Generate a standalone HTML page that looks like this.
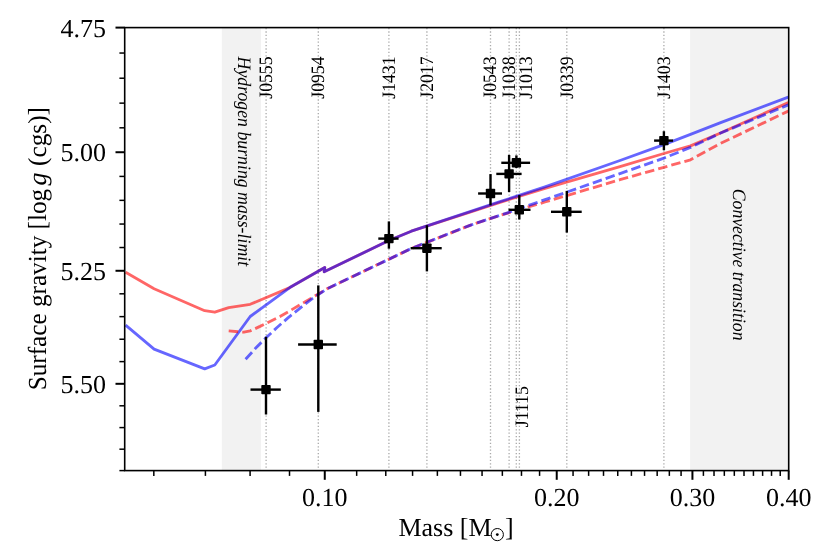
<!DOCTYPE html>
<html><head><meta charset="utf-8"><title>Mass - surface gravity</title>
<style>html,body{margin:0;padding:0;background:#fff;}svg{display:block;}text{font-family:"Liberation Serif",serif;fill:#000;text-rendering:geometricPrecision;}</style></head><body>
<svg width="830" height="554" viewBox="0 0 830 554">
<rect x="0" y="0" width="830" height="554" fill="#ffffff"/>
<rect x="221.8" y="27.6" width="39.2" height="443.0" fill="#f2f2f2"/>
<rect x="690.1" y="27.6" width="98.6" height="443.0" fill="#f2f2f2"/>
<g stroke="#808080" stroke-opacity="0.68" stroke-width="1.3" stroke-dasharray="1.28 2.12" stroke-dashoffset="0.64" fill="none">
<line x1="266.1" y1="470.6" x2="266.1" y2="27.6"/>
<line x1="318.3" y1="470.6" x2="318.3" y2="27.6"/>
<line x1="388.9" y1="470.6" x2="388.9" y2="27.6"/>
<line x1="426.9" y1="470.6" x2="426.9" y2="27.6"/>
<line x1="490.5" y1="470.6" x2="490.5" y2="27.6"/>
<line x1="509.1" y1="470.6" x2="509.1" y2="27.6"/>
<line x1="516.3" y1="470.6" x2="516.3" y2="27.6"/>
<line x1="519.4" y1="470.6" x2="519.4" y2="27.6"/>
<line x1="566.8" y1="470.6" x2="566.8" y2="27.6"/>
<line x1="663.9" y1="470.6" x2="663.9" y2="27.6"/>
</g>
<g fill="none" stroke-width="2.85" stroke-linejoin="round" stroke-opacity="0.6">
<polyline points="125.6,272.2 154.1,288.7 204.7,310.7 214.8,312.2 228.7,307.6 250.2,304.3 289.8,287.6 324.8,267.6 324.2,271.8 388.9,240.5 411.3,231.2 470.0,212.1 500.0,202.3 545.0,188.3 620.0,166.7 663.9,153.5 690.5,145.9 720.0,133.3 788.3,102.6" stroke="#ff0000"/>
<polyline points="125.6,325.1 154.1,349.1 204.7,368.8 214.8,365.0 250.2,316.5 289.8,287.6 324.8,267.6 324.2,271.8 388.9,240.5 411.3,231.2 470.0,211.6 500.0,201.7 545.0,186.8 620.0,160.5 663.9,144.6 690.5,134.4 720.0,122.9 788.3,97.2" stroke="#0000ff"/>
<polyline points="228.7,330.9 243.9,332.2 250.2,330.9 260.0,326.4 280.0,316.6 305.7,301.5 327.0,288.8 411.3,248.5 470.0,225.3 500.0,215.4 545.0,202.0 620.0,179.7 663.9,167.3 690.5,159.8 720.0,143.7 788.3,111.1" stroke="#ff0000" stroke-dasharray="9.5 4.1"/>
<polyline points="245.6,359.2 256.0,347.8 266.0,337.8 277.0,327.5 287.7,318.1 298.6,309.3 310.0,300.3 318.0,294.7 327.0,288.8 411.3,248.5 470.0,225.3 500.0,215.4 545.0,199.7 620.0,173.6 663.9,158.1 690.5,147.4 720.0,133.3 788.3,104.9" stroke="#0000ff" stroke-dasharray="9.5 4.1"/>
</g>
<g stroke="#000" stroke-width="2.4" fill="#000">
<line x1="250.5" y1="389.6" x2="280.8" y2="389.6"/><line x1="266.0" y1="336.8" x2="266.0" y2="414.5"/>
<line x1="298.1" y1="344.5" x2="336.7" y2="344.5"/><line x1="318.3" y1="285.4" x2="318.3" y2="411.9"/>
<line x1="378.3" y1="238.6" x2="398.6" y2="238.6"/><line x1="388.9" y1="221.4" x2="388.9" y2="248.7"/>
<line x1="410.6" y1="248.2" x2="441.7" y2="248.2"/><line x1="426.9" y1="225.2" x2="426.9" y2="271.4"/>
<line x1="478.1" y1="193.5" x2="502.0" y2="193.5"/><line x1="490.5" y1="174.1" x2="490.5" y2="205.3"/>
<line x1="496.3" y1="173.9" x2="521.6" y2="173.9"/><line x1="509.1" y1="154.9" x2="509.1" y2="192.1"/>
<line x1="501.3" y1="162.8" x2="530.1" y2="162.8"/><line x1="516.4" y1="155.4" x2="516.4" y2="168.0"/>
<line x1="508.5" y1="209.8" x2="530.5" y2="209.8"/><line x1="519.3" y1="195.1" x2="519.3" y2="219.5"/>
<line x1="551.0" y1="211.8" x2="581.7" y2="211.8"/><line x1="566.8" y1="190.9" x2="566.8" y2="232.6"/>
<line x1="654.1" y1="140.6" x2="673.1" y2="140.6"/><line x1="663.9" y1="131.2" x2="663.9" y2="150.2"/>
</g><g fill="#000" stroke="none">
<rect x="261.3" y="384.9" width="9.4" height="9.4" rx="0.8"/>
<rect x="313.6" y="339.8" width="9.4" height="9.4" rx="0.8"/>
<rect x="384.2" y="233.9" width="9.4" height="9.4" rx="0.8"/>
<rect x="422.2" y="243.5" width="9.4" height="9.4" rx="0.8"/>
<rect x="485.8" y="188.8" width="9.4" height="9.4" rx="0.8"/>
<rect x="504.4" y="169.2" width="9.4" height="9.4" rx="0.8"/>
<rect x="511.7" y="158.1" width="9.4" height="9.4" rx="0.8"/>
<rect x="514.6" y="205.1" width="9.4" height="9.4" rx="0.8"/>
<rect x="562.1" y="207.1" width="9.4" height="9.4" rx="0.8"/>
<rect x="659.2" y="135.9" width="9.4" height="9.4" rx="0.8"/>
</g>
<rect x="124.7" y="27.6" width="664.0" height="443.0" fill="none" stroke="#000" stroke-width="1.6"/>
<g stroke="#000" fill="none">
<line x1="153.82" y1="470.6" x2="153.82" y2="475.90000000000003" stroke-width="1.5"/>
<line x1="205.41" y1="470.6" x2="205.41" y2="475.90000000000003" stroke-width="1.5"/>
<line x1="250.09" y1="470.6" x2="250.09" y2="475.90000000000003" stroke-width="1.5"/>
<line x1="289.51" y1="470.6" x2="289.51" y2="475.90000000000003" stroke-width="1.5"/>
<line x1="324.77" y1="470.6" x2="324.77" y2="479.8" stroke-width="2"/>
<line x1="356.67" y1="470.6" x2="356.67" y2="475.90000000000003" stroke-width="1.5"/>
<line x1="385.78" y1="470.6" x2="385.78" y2="475.90000000000003" stroke-width="1.5"/>
<line x1="412.57" y1="470.6" x2="412.57" y2="475.90000000000003" stroke-width="1.5"/>
<line x1="437.37" y1="470.6" x2="437.37" y2="475.90000000000003" stroke-width="1.5"/>
<line x1="460.46" y1="470.6" x2="460.46" y2="475.90000000000003" stroke-width="1.5"/>
<line x1="482.06" y1="470.6" x2="482.06" y2="475.90000000000003" stroke-width="1.5"/>
<line x1="502.35" y1="470.6" x2="502.35" y2="475.90000000000003" stroke-width="1.5"/>
<line x1="521.48" y1="470.6" x2="521.48" y2="475.90000000000003" stroke-width="1.5"/>
<line x1="539.57" y1="470.6" x2="539.57" y2="475.90000000000003" stroke-width="1.5"/>
<line x1="556.73" y1="470.6" x2="556.73" y2="479.8" stroke-width="2"/>
<line x1="573.06" y1="470.6" x2="573.06" y2="475.90000000000003" stroke-width="1.5"/>
<line x1="588.63" y1="470.6" x2="588.63" y2="475.90000000000003" stroke-width="1.5"/>
<line x1="603.51" y1="470.6" x2="603.51" y2="475.90000000000003" stroke-width="1.5"/>
<line x1="617.75" y1="470.6" x2="617.75" y2="475.90000000000003" stroke-width="1.5"/>
<line x1="631.41" y1="470.6" x2="631.41" y2="475.90000000000003" stroke-width="1.5"/>
<line x1="644.54" y1="470.6" x2="644.54" y2="475.90000000000003" stroke-width="1.5"/>
<line x1="657.17" y1="470.6" x2="657.17" y2="475.90000000000003" stroke-width="1.5"/>
<line x1="669.34" y1="470.6" x2="669.34" y2="475.90000000000003" stroke-width="1.5"/>
<line x1="681.08" y1="470.6" x2="681.08" y2="475.90000000000003" stroke-width="1.5"/>
<line x1="692.43" y1="470.6" x2="692.43" y2="479.8" stroke-width="2"/>
<line x1="703.40" y1="470.6" x2="703.40" y2="475.90000000000003" stroke-width="1.5"/>
<line x1="714.02" y1="470.6" x2="714.02" y2="475.90000000000003" stroke-width="1.5"/>
<line x1="724.32" y1="470.6" x2="724.32" y2="475.90000000000003" stroke-width="1.5"/>
<line x1="734.31" y1="470.6" x2="734.31" y2="475.90000000000003" stroke-width="1.5"/>
<line x1="744.01" y1="470.6" x2="744.01" y2="475.90000000000003" stroke-width="1.5"/>
<line x1="753.44" y1="470.6" x2="753.44" y2="475.90000000000003" stroke-width="1.5"/>
<line x1="762.61" y1="470.6" x2="762.61" y2="475.90000000000003" stroke-width="1.5"/>
<line x1="771.53" y1="470.6" x2="771.53" y2="475.90000000000003" stroke-width="1.5"/>
<line x1="780.23" y1="470.6" x2="780.23" y2="475.90000000000003" stroke-width="1.5"/>
<line x1="788.70" y1="470.6" x2="788.70" y2="479.8" stroke-width="2"/>
<line x1="124.7" y1="27.60" x2="115.5" y2="27.60" stroke-width="2"/>
<line x1="124.7" y1="53.04" x2="119.4" y2="53.04" stroke-width="1.5"/>
<line x1="124.7" y1="78.22" x2="119.4" y2="78.22" stroke-width="1.5"/>
<line x1="124.7" y1="103.14" x2="119.4" y2="103.14" stroke-width="1.5"/>
<line x1="124.7" y1="127.81" x2="119.4" y2="127.81" stroke-width="1.5"/>
<line x1="124.7" y1="152.23" x2="115.5" y2="152.23" stroke-width="2"/>
<line x1="124.7" y1="176.41" x2="119.4" y2="176.41" stroke-width="1.5"/>
<line x1="124.7" y1="200.35" x2="119.4" y2="200.35" stroke-width="1.5"/>
<line x1="124.7" y1="224.05" x2="119.4" y2="224.05" stroke-width="1.5"/>
<line x1="124.7" y1="247.53" x2="119.4" y2="247.53" stroke-width="1.5"/>
<line x1="124.7" y1="270.78" x2="115.5" y2="270.78" stroke-width="2"/>
<line x1="124.7" y1="293.81" x2="119.4" y2="293.81" stroke-width="1.5"/>
<line x1="124.7" y1="316.63" x2="119.4" y2="316.63" stroke-width="1.5"/>
<line x1="124.7" y1="339.23" x2="119.4" y2="339.23" stroke-width="1.5"/>
<line x1="124.7" y1="361.62" x2="119.4" y2="361.62" stroke-width="1.5"/>
<line x1="124.7" y1="383.81" x2="115.5" y2="383.81" stroke-width="2"/>
<line x1="124.7" y1="405.80" x2="119.4" y2="405.80" stroke-width="1.5"/>
<line x1="124.7" y1="427.59" x2="119.4" y2="427.59" stroke-width="1.5"/>
<line x1="124.7" y1="449.19" x2="119.4" y2="449.19" stroke-width="1.5"/>
<line x1="124.7" y1="470.60" x2="119.4" y2="470.60" stroke-width="1.5"/>
</g>
<g font-size="26px" style="mix-blend-mode:multiply">
<text x="324.8" y="506.3" text-anchor="middle">0.10</text>
<text x="556.7" y="506.3" text-anchor="middle">0.20</text>
<text x="692.4" y="506.3" text-anchor="middle">0.30</text>
<text x="788.7" y="506.3" text-anchor="middle">0.40</text>
<text x="106.0" y="36.7" text-anchor="end">4.75</text>
<text x="106.0" y="161.3" text-anchor="end">5.00</text>
<text x="106.0" y="279.9" text-anchor="end">5.25</text>
<text x="106.0" y="392.9" text-anchor="end">5.50</text>
</g>
<g style="mix-blend-mode:multiply">
<text x="398.4" y="535.8" font-size="26px">Mass [M</text>
<circle cx="497.3" cy="534.6" r="6.1" fill="none" stroke="#000" stroke-width="1"/><circle cx="497.3" cy="534.6" r="1.4" fill="#000"/>
<text x="504.9" y="535.8" font-size="26px">]</text>
</g>
<g font-size="26px">
<text transform="translate(46.3,390.3) rotate(-90)" textLength="201.5" lengthAdjust="spacingAndGlyphs">Surface gravity [log</text>
<text transform="translate(46.3,185.6) rotate(-90)" font-style="italic">g</text>
<text transform="translate(46.3,166.0) rotate(-90)" textLength="59.0" lengthAdjust="spacingAndGlyphs">(cgs)]</text>
</g>
<g font-size="17.7px">
<text transform="translate(272.1,98.7) rotate(-90) scale(1,1.07)">J0555</text>
<text transform="translate(324.3,98.7) rotate(-90) scale(1,1.07)">J0954</text>
<text transform="translate(394.9,98.7) rotate(-90) scale(1,1.07)">J1431</text>
<text transform="translate(432.9,98.7) rotate(-90) scale(1,1.07)">J2017</text>
<text transform="translate(496.4,98.7) rotate(-90) scale(1,1.07)">J0543</text>
<text transform="translate(515.1,98.7) rotate(-90) scale(1,1.07)">J1038</text>
<text transform="translate(532.4,98.7) rotate(-90) scale(1,1.07)">J1013</text>
<text transform="translate(572.8,98.7) rotate(-90) scale(1,1.07)">J0339</text>
<text transform="translate(669.9,98.7) rotate(-90) scale(1,1.07)">J1403</text>
<text transform="translate(528.4,427.2) rotate(-90) scale(1,1.07)">J1115</text>
<text transform="translate(237.9,56.6) rotate(90) scale(1,1.07)" font-style="italic" textLength="209.5" lengthAdjust="spacingAndGlyphs">Hydrogen burning mass-limit</text>
<text transform="translate(732.5,188.8) rotate(90) scale(1,1.07)" font-style="italic" textLength="151.7" lengthAdjust="spacingAndGlyphs">Convective transition</text>
</g>
</svg></body></html>
